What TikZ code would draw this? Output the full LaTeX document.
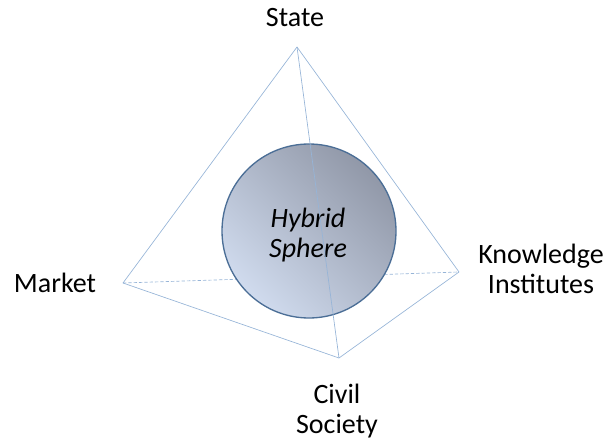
\documentclass[tikz,border=0pt]{standalone}
\usepackage{fontspec}
\setmainfont{Carlito}
\usetikzlibrary{calc, positioning}
\definecolor{EdgeBlue}{RGB}{150,180,215}
\definecolor{SphereRim}{RGB}{75,110,150}
\definecolor{SphereLight}{RGB}{208,219,238}
\definecolor{SphereDark}{RGB}{145,152,168}
\tikzset{%
  edge/.style={%
    draw=EdgeBlue,
    line width=0.5pt,
    line join=round%
  },
  hidden/.style={%
    edge,
    dash pattern=on 2.5pt off 1.5pt%
  },
  sphere/.style={%
    circle,
    draw=SphereRim,
    line width=1pt,
    top color=SphereDark,
    bottom color=SphereLight,
    shading angle=-45,
    minimum size=130.5pt,
    inner sep=0pt%
  },
  corner/.style={%
    font={\fontsize{21}{22.5}\selectfont},
    inner sep=0pt,
    align=center%
  }
}
\begin{document}
\begin{tikzpicture}[x=0.75pt, y=0.75pt]
    \useasboundingbox (0,0) rectangle (608,440);

    \coordinate (StateTip) at (297,393);
    \coordinate (MarketTip) at (123,157);
    \coordinate (KnowledgeTip) at (459,168);
    \coordinate (CivilTip) at (339,82);

    \node [corner, anchor=base] (State) at (295,413) {State};
    \node [corner, anchor=base] (Market) at (55,147) {Market};
    \node [corner] (Knowledge) at (541,171) {Knowledge\\Institutes};
    \node [corner] (Civil) at (337,29) {Civil\\Society};

    % back edges
    \draw [edge] (StateTip) -- (MarketTip) -- (CivilTip) -- (KnowledgeTip) -- cycle;
    \draw [hidden] (MarketTip) -- (KnowledgeTip);

    \node [sphere] (Hybrid) at (309,209) {};
    \node [corner, font={\fontsize{21}{22.5}\selectfont\itshape}] (HybridText) at (308,205) {Hybrid\\Sphere};

    % front edge
    \draw [edge] (StateTip) -- (CivilTip);
\end{tikzpicture}
\end{document}
